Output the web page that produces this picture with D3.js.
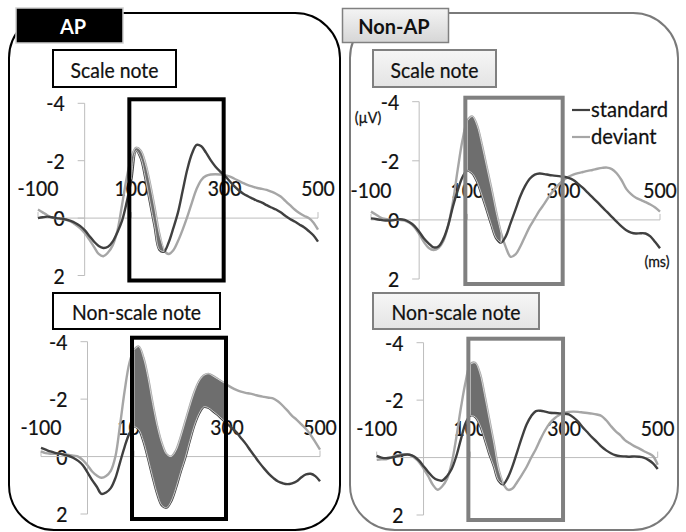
<!DOCTYPE html>
<html><head><meta charset="utf-8">
<script src="https://cdn.jsdelivr.net/npm/d3@7"></script>
<style>html,body{margin:0;padding:0;background:#fff;} svg{display:block;}</style>
</head><body>
<svg id="c" width="686" height="532"></svg>
<script>
// ---- data ----
const times = [-100,-90,-80,-70,-60,-50,-40,-30,-20,-10,0,10,20,30,40,50,60,70,80,90,100,110,120,130,140,150,160,170,180,190,200,210,220,230,240,250,260,270,280,290,300,310,320,330,340,350,360,370,380,390,400,410,420,430,440,450,460,470,480,490,500];
const xTicks = [-100, 100, 300, 500];
const yTicks = [-4, -2, 0, 2];
const seriesNames = ["standard", "deviant"];
const groups = ["AP", "Non-AP"];
const conditions = ["Scale note", "Non-scale note"];

const apScaleStd = [0.0,-0.03,-0.05,-0.03,0.0,0.02,0.05,0.1,0.17,0.27,
 0.42,0.62,0.82,0.97,1.04,1.0,0.82,0.5,0.1,-0.55,
 -1.35,-2.35,-2.1,-1.4,-0.55,0.3,1.1,1.17,0.85,0.35,
 -0.2,-0.95,-1.7,-2.25,-2.55,-2.5,-2.28,-2.02,-1.8,-1.63,
 -1.48,-1.3,-1.12,-0.97,-0.85,-0.76,-0.68,-0.6,-0.54,-0.45,
 -0.37,-0.3,-0.2,-0.08,0.03,0.12,0.22,0.32,0.45,0.6,
 0.82];
const apScaleDev = [-0.3,-0.2,-0.1,-0.02,0.0,0.03,0.06,0.12,0.22,0.35,
 0.52,0.75,1.0,1.25,1.33,1.2,0.95,0.45,-0.45,-1.4,
 -2.1,-2.45,-2.35,-1.9,-1.2,-0.35,0.55,1.12,1.25,1.12,
 0.8,0.4,-0.05,-0.55,-1.02,-1.33,-1.47,-1.52,-1.53,-1.52,
 -1.5,-1.45,-1.38,-1.3,-1.22,-1.15,-1.1,-1.05,-1.02,-0.98,
 -0.92,-0.85,-0.75,-0.6,-0.45,-0.3,-0.18,-0.08,0.0,0.15,
 0.4];
const nonApScaleStd = [-0.05,-0.03,0.0,0.02,0.02,0.0,-0.02,0.0,0.08,0.2,
 0.4,0.63,0.8,0.93,0.9,0.65,0.2,-0.45,-1.0,-1.45,
 -1.68,-1.58,-1.3,-0.85,-0.35,0.17,0.62,0.77,0.55,0.1,
 -0.35,-0.8,-1.15,-1.4,-1.53,-1.57,-1.55,-1.52,-1.5,-1.48,
 -1.46,-1.42,-1.35,-1.22,-1.08,-0.92,-0.76,-0.6,-0.43,-0.27,
 -0.1,0.06,0.22,0.35,0.43,0.46,0.45,0.46,0.56,0.75,
 0.96];
const nonApScaleDev = [-0.28,-0.18,-0.08,-0.03,0.0,0.0,0.0,0.02,0.1,0.25,
 0.48,0.75,0.95,1.02,0.95,0.72,0.2,-0.6,-1.7,-2.7,
 -3.35,-3.5,-3.2,-2.55,-1.8,-1.05,-0.25,0.45,0.93,1.25,
 1.17,0.9,0.55,0.22,-0.05,-0.32,-0.55,-0.8,-1.02,-1.2,
 -1.35,-1.46,-1.53,-1.58,-1.62,-1.66,-1.69,-1.73,-1.76,-1.77,
 -1.72,-1.58,-1.35,-1.05,-0.87,-0.75,-0.68,-0.6,-0.52,-0.42,
 -0.28];
const apNonScaleStd = [-0.3,-0.24,-0.18,-0.13,-0.1,-0.06,-0.02,0.05,0.15,0.3,
 0.55,0.82,1.05,1.3,1.25,1.1,0.75,0.2,-0.35,-0.8,
 -1.05,-0.95,-0.55,0.05,0.7,1.3,1.7,1.78,1.55,1.1,
 0.55,0.05,-0.55,-1.1,-1.5,-1.73,-1.7,-1.58,-1.45,-1.3,
 -1.15,-1.0,-0.85,-0.65,-0.45,-0.22,0.0,0.22,0.42,0.6,
 0.75,0.87,0.93,0.96,0.93,0.86,0.72,0.62,0.6,0.68,
 0.86];
const apNonScaleDev = [-0.18,-0.12,-0.1,-0.1,-0.1,-0.08,-0.06,-0.03,0.0,0.12,
 0.3,0.52,0.66,0.74,0.68,0.5,0.0,-1.1,-2.3,-3.25,
 -3.7,-3.83,-3.45,-2.75,-1.85,-1.05,-0.45,-0.08,0.0,-0.2,
 -0.65,-1.2,-1.75,-2.25,-2.62,-2.82,-2.88,-2.8,-2.7,-2.6,
 -2.5,-2.4,-2.32,-2.26,-2.22,-2.19,-2.15,-2.11,-2.08,-2.05,
 -2.02,-1.92,-1.77,-1.6,-1.42,-1.28,-1.12,-0.96,-0.75,-0.5,
 -0.24];
const nonApNonScaleStd = [-0.06,0.0,0.02,0.0,-0.03,-0.07,-0.1,-0.1,-0.04,0.1,
 0.3,0.5,0.68,0.78,0.8,0.65,0.4,-0.05,-0.65,-1.2,
 -1.46,-1.42,-1.15,-0.68,-0.15,0.3,0.8,0.93,0.7,0.3,
 -0.2,-0.7,-1.15,-1.45,-1.62,-1.63,-1.6,-1.56,-1.55,-1.54,
 -1.53,-1.5,-1.4,-1.25,-1.05,-0.88,-0.7,-0.55,-0.38,-0.25,
 -0.15,-0.08,-0.05,-0.04,-0.03,-0.04,-0.03,0.0,0.08,0.2,
 0.4];
const nonApNonScaleDev = [0.08,0.06,0.06,0.0,-0.07,-0.1,-0.12,-0.1,0.0,0.15,
 0.38,0.65,0.95,1.12,1.0,0.75,0.2,-0.7,-1.75,-2.65,
 -3.25,-3.3,-2.95,-2.2,-1.35,-0.5,0.4,0.9,1.12,1.08,
 0.85,0.6,0.33,0.0,-0.3,-0.65,-0.96,-1.2,-1.37,-1.48,
 -1.56,-1.59,-1.6,-1.59,-1.57,-1.55,-1.53,-1.5,-1.45,-1.3,
 -1.1,-0.92,-0.78,-0.61,-0.5,-0.4,-0.32,-0.23,-0.15,-0.05,
 0.25];
// significant windows (ms) shaded between curves
const fillWindows = [[100,170],[100,170],[100,300],[100,170]];
const analysisWindow = [100, 300];

// ---- layout ----
const FONT = "Lato, 'Open Sans', sans-serif";
const SX = 0.88;
const COL_STD = "#404040", COL_DEV = "#a6a6a6", COL_FILL = "#6e6e6e";
const svg = d3.select("#c");
svg.append("rect").attr("width",686).attr("height",532).attr("fill","#fff");

function txt(sel, x, y, s, o={}) {
  return sel.append("text")
    .attr("transform", `translate(${x},${y}) scale(${o.sx ?? SX},1)`)
    .attr("text-anchor", o.anchor || "middle")
    .attr("font-family", FONT)
    .attr("font-size", o.size || 22)
    .attr("font-weight", o.weight || "normal")
    .attr("fill", o.fill || "#111")
    .attr("stroke", o.fill || "#111").attr("stroke-width", o.weight === "bold" ? 0 : 0.25)
    .text(s);
}

// panel outlines
svg.append("rect").attr("x",9).attr("y",13).attr("width",331).attr("height",517)
  .attr("rx",45).attr("fill","none").attr("stroke","#000").attr("stroke-width",2);
svg.append("rect").attr("x",350).attr("y",13).attr("width",328).attr("height",517)
  .attr("rx",45).attr("fill","none").attr("stroke","#7a7a7a").attr("stroke-width",2);

// headers
const defs = svg.append("defs");
const gr = defs.append("linearGradient").attr("id","hg").attr("x1",0).attr("y1",0).attr("x2",0).attr("y2",1);
gr.append("stop").attr("offset","0%").attr("stop-color","#f4f4f4");
gr.append("stop").attr("offset","100%").attr("stop-color","#d6d6d6");
const gb = defs.append("linearGradient").attr("id","bg2").attr("x1",0).attr("y1",0).attr("x2",0).attr("y2",1);
gb.append("stop").attr("offset","0%").attr("stop-color","#f6f6f6");
gb.append("stop").attr("offset","100%").attr("stop-color","#e4e4e4");

svg.append("rect").attr("x",16).attr("y",8).attr("width",107).attr("height",35)
  .attr("fill","#000").attr("stroke","#d0d0d0").attr("stroke-width",1.5);
txt(svg, 73, 34, groups[0], {size:21, weight:"bold", fill:"#fff", sx:0.95});
svg.append("rect").attr("x",342.5).attr("y",8.5).attr("width",106).attr("height",34)
  .attr("fill","url(#hg)").attr("stroke","#808080").attr("stroke-width",1.5);
txt(svg, 394, 34, groups[1], {size:21, weight:"bold", fill:"#111", sx:0.95});

// panels
const panels = [
  {std: apScaleStd, dev: apScaleDev, xr:[38,318], yr:[103.3,275.5], cond:0, ap:true,
   box:[53,50,123,37], legend:false},
  {std: nonApScaleStd, dev: nonApScaleDev, xr:[371,660], yr:[101.7,279], cond:0, ap:false,
   box:[373,50,123,37], legend:true},
  {std: apNonScaleStd, dev: apNonScaleDev, xr:[41,320], yr:[341.7,514], cond:1, ap:true,
   box:[53,293,167,36], legend:false},
  {std: nonApNonScaleStd, dev: nonApNonScaleDev, xr:[376.7,657.7], yr:[342.7,515], cond:1, ap:false,
   box:[373,293,166,36], legend:false},
];

panels.forEach((p, i) => {
  const g = svg.append("g");
  const x = d3.scaleLinear().domain([xTicks[0], xTicks[xTicks.length-1]]).range(p.xr);
  const y = d3.scaleLinear().domain([yTicks[0], yTicks[yTicks.length-1]]).range(p.yr);
  const y0 = y(0), x0 = x(0);

  // condition box
  g.append("rect").attr("x",p.box[0]).attr("y",p.box[1]).attr("width",p.box[2]).attr("height",p.box[3])
    .attr("fill", p.ap ? "#fff" : "url(#bg2)")
    .attr("stroke", p.ap ? "#000" : "#808080").attr("stroke-width", 2);
  txt(g, p.box[0] + p.box[2]/2, p.box[1] + p.box[3] - 9, conditions[p.cond], {size:22});

  // y axis
  g.append("line").attr("x1",x0).attr("x2",x0).attr("y1",y(yTicks[0])).attr("y2",y(yTicks[yTicks.length-1]))
    .attr("stroke","#bdbdbd").attr("stroke-width",1);
  yTicks.forEach(t => {
    g.append("line").attr("x1",x0-7).attr("x2",x0).attr("y1",y(t)).attr("y2",y(t))
      .attr("stroke","#bdbdbd").attr("stroke-width",1);
    txt(g, x0-20, y(t)+8, String(t), {size:22, anchor:"end"});
  });
  // x axis
  g.append("line").attr("x1",x(xTicks[0])).attr("x2",x(xTicks[xTicks.length-1])).attr("y1",y0).attr("y2",y0)
    .attr("stroke","#bdbdbd").attr("stroke-width",1);
  xTicks.forEach(t => {
    g.append("line").attr("x1",x(t)).attr("x2",x(t)).attr("y1",y0-6).attr("y2",y0)
      .attr("stroke","#bdbdbd").attr("stroke-width",1);
    txt(g, x(t), y0-22, String(t), {size:22});
  });

  const pts = (arr) => times.map((t, k) => [t, arr[k]]);
  const line = d3.line().x(d => x(d[0])).y(d => y(d[1])).curve(d3.curveCatmullRom.alpha(0.5));

  g.append("path").attr("d", line(pts(p.dev))).attr("fill","none").attr("stroke",COL_DEV).attr("stroke-width",2.4);
  g.append("path").attr("d", line(pts(p.std))).attr("fill","none").attr("stroke",COL_STD).attr("stroke-width",2.4);

  // shaded difference
  const [f0, f1] = fillWindows[i];
  const fd = times.map((t,k) => ({t, a:p.std[k], b:p.dev[k]})).filter(d => d.t >= f0 && d.t <= f1);
  const area = d3.area().x(d => x(d.t)).y0(d => y(d.a)).y1(d => y(d.b)).curve(d3.curveCatmullRom.alpha(0.5));
  g.append("path").attr("d", area(fd)).attr("fill",COL_FILL).attr("stroke","#e6e6e6").attr("stroke-width",0.8);

  // analysis window frame
  g.append("rect")
    .attr("x", x(analysisWindow[0]) - 2).attr("y", y(yTicks[0]) - 4)
    .attr("width", x(analysisWindow[1]) - x(analysisWindow[0]) + 1)
    .attr("height", y(yTicks[yTicks.length-1]) - y(yTicks[0]) + 9)
    .attr("fill","none").attr("stroke", p.ap ? "#000" : "#808080").attr("stroke-width",4);

  if (!p.ap && p.cond === 0) {
    txt(g, 368, 123, "(µV)", {size:15, sx:0.95});
    txt(g, 657, 267, "(ms)", {size:15, sx:0.95});
  }
  if (p.legend) {
    const lg = [[COL_STD, 110], [COL_DEV, 137]];
    lg.forEach(([c, yy], k) => {
      g.append("line").attr("x1",572).attr("x2",590).attr("y1",yy).attr("y2",yy).attr("stroke",c).attr("stroke-width",2.2);
      txt(g, 591, yy+7, seriesNames[k], {size:22, anchor:"start", sx:0.92});
    });
  }
});
</script>
</body></html>
